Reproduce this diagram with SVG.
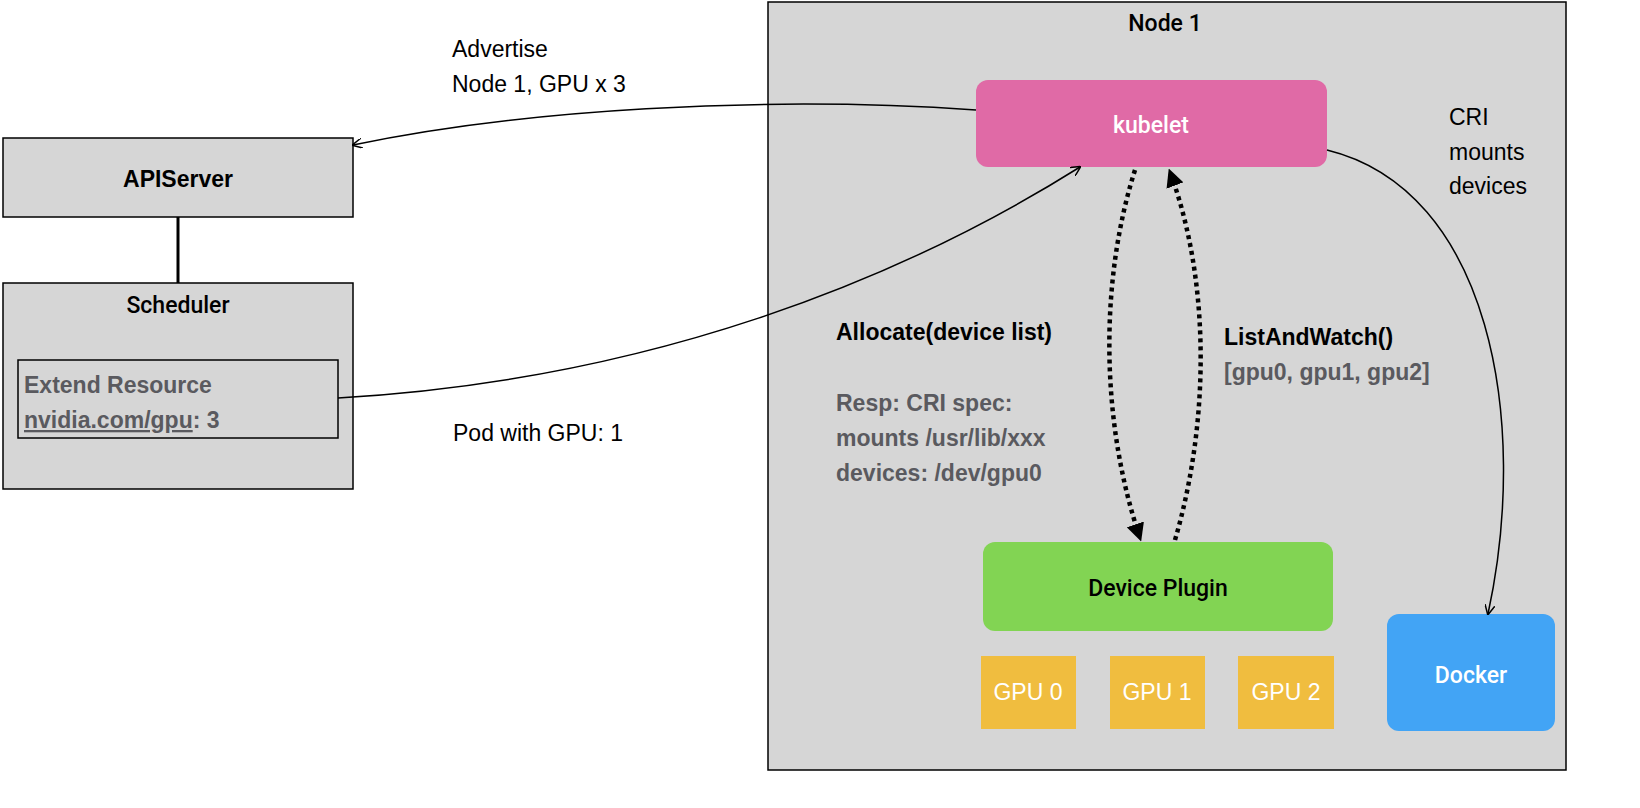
<svg xmlns="http://www.w3.org/2000/svg" width="1640" height="808" viewBox="0 0 1640 808">
<defs>
<style>
text{font-family:"Helvetica Neue","Liberation Sans",Arial,sans-serif;font-size:23px;fill:#000}
.b{font-weight:bold}
.g{fill:#5a5a5f;font-weight:bold}
.w{fill:#fff}
.m{font-family:Roboto,"Liberation Sans",sans-serif;font-weight:500}
.box{fill:#d6d6d6;stroke:#000;stroke-width:1.5}
.thin{fill:none;stroke:#000;stroke-width:1.5}
.dot{fill:none;stroke:#000;stroke-width:4.5;stroke-dasharray:4 4}
</style>
<marker id="a" viewBox="0 0 10 10" refX="9" refY="5" markerWidth="10" markerHeight="10" markerUnits="userSpaceOnUse" orient="auto"><path d="M0,0 L10,5 L0,10" fill="none" stroke="#000" stroke-width="1.5"/></marker>
<marker id="d" viewBox="0 0 10 10" refX="8" refY="5" markerWidth="4" markerHeight="4" orient="auto"><path d="M0,0 L10,5 L0,10 z" fill="#000"/></marker>
</defs>
<g id="node1"><rect class="box" x="768" y="2" width="798" height="768"/><text class="m" x="1165" y="31" text-anchor="middle" font-size="25">Node 1</text></g>
<g id="apiserver"><rect class="box" x="3" y="138" width="350" height="79"/><text class="b" x="178" y="187" text-anchor="middle" font-size="24">APIServer</text></g>
<g id="scheduler"><rect class="box" x="3" y="283" width="350" height="206"/><text class="m" x="178" y="313" text-anchor="middle" font-size="24">Scheduler</text>
<rect x="18" y="360" width="320" height="78" fill="#d6d6d6" stroke="#000" stroke-width="1.5"/>
<text class="g" x="24" y="393">Extend Resource</text>
<text class="g" x="24" y="428"><tspan text-decoration="underline">nvidia.com/gpu</tspan>: 3</text></g>
<g id="kubelet"><rect x="976" y="80" width="351" height="87" rx="12" fill="#e06aa6"/><text class="w m" x="1151" y="133" text-anchor="middle" font-size="26">kubelet</text></g>
<g id="deviceplugin"><rect x="983" y="542" width="350" height="89" rx="12" fill="#82d453"/><text class="m" x="1158" y="596" text-anchor="middle" font-size="25">Device Plugin</text></g>
<g id="gpu0"><rect x="981" y="656" width="95" height="73" fill="#f0bd3f"/><text class="w" x="1028" y="700" text-anchor="middle" font-size="19">GPU 0</text></g>
<g id="gpu1"><rect x="1110" y="656" width="95" height="73" fill="#f0bd3f"/><text class="w" x="1157" y="700" text-anchor="middle" font-size="19">GPU 1</text></g>
<g id="gpu2"><rect x="1238" y="656" width="96" height="73" fill="#f0bd3f"/><text class="w" x="1286" y="700" text-anchor="middle" font-size="19">GPU 2</text></g>
<g id="docker"><rect x="1387" y="614" width="168" height="117" rx="12" fill="#42a4f5"/><text class="w m" x="1471" y="683" text-anchor="middle" font-size="26">Docker</text></g>
<g id="connectors">
<line x1="178" y1="217" x2="178" y2="283" stroke="#000" stroke-width="3"/>
<path class="thin" d="M976,110 C760,95 520,110 353,145" marker-end="url(#a)"/>
<path class="thin" d="M338,398 C650,380 900,280 1080,167" marker-end="url(#a)"/>
<path class="thin" d="M1327,150 C1490,190 1530,420 1488,614" marker-end="url(#a)"/>
<path class="dot" d="M1135,170 C1100,280 1100,420 1140,538" marker-end="url(#d)"/>
<path class="dot" d="M1175,540 C1210,420 1210,280 1170,172" marker-end="url(#d)"/>
</g>
<g id="labels">
<text x="452" y="57">Advertise</text><text x="452" y="92">Node 1, GPU x 3</text>
<text x="453" y="441">Pod with GPU: 1</text>
<text x="1449" y="125">CRI</text><text x="1449" y="160">mounts</text><text x="1449" y="194">devices</text>
<text class="b" x="836" y="340">Allocate(device list)</text>
<text class="g" x="836" y="411">Resp: CRI spec:</text>
<text class="g" x="836" y="446">mounts /usr/lib/xxx</text>
<text class="g" x="836" y="481">devices: /dev/gpu0</text>
<text class="b" x="1224" y="345">ListAndWatch()</text>
<text class="g" x="1224" y="380">[gpu0, gpu1, gpu2]</text>
</g>
</svg>
